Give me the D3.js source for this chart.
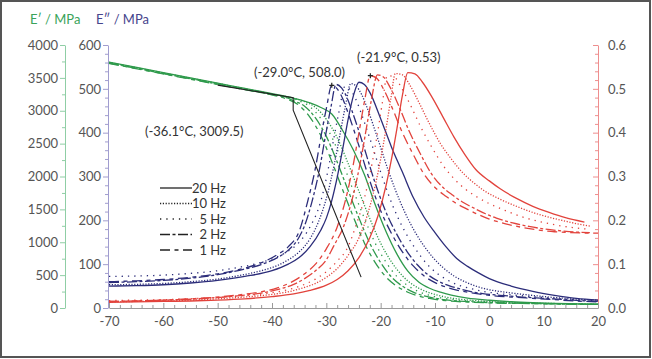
<!DOCTYPE html>
<html><head><meta charset="utf-8">
<script src="https://cdn.jsdelivr.net/npm/d3@7"></script>
<style>
body{margin:0;background:#fff;}
svg text{font-family:Lato,"Open Sans",sans-serif;}
</style></head><body>
<svg id="c" width="652" height="359"></svg>
<script>
// ---------- data ----------
const freqs = ["20 Hz","10 Hz","5 Hz","2 Hz","1 Hz"];
const xTicks = [-70,-60,-50,-40,-30,-20,-10,0,10,20];
const ePTicks = [0,500,1000,1500,2000,2500,3000,3500,4000];
const eDPTicks = [0,100,200,300,400,500,600];
const tanTicks = [0,0.1,0.2,0.3,0.4,0.5,0.6];

// E' (storage modulus, MPa)
const ep20 = [[-70,3740],[-60,3580],[-50,3420],[-45,3340],[-40,3260],[-36,3190],[-33,3120],[-31,3050],[-29,2950],[-27,2700],[-25,2400],[-23,2030],[-21,1570],[-19,1160],[-17,820],[-15,560],[-13,395],[-11,300],[-9,240],[-7,195],[-4,150],[0,118],[4,95],[8,80],[12,70],[16,63],[20,58]];
const ep10 = [[-70,3735],[-60,3575],[-50,3415],[-45,3335],[-40,3255],[-36,3190],[-34,3140],[-32,3050],[-30,2870],[-28,2590],[-26,2200],[-24,1775],[-22,1360],[-20,985],[-18,700],[-16,490],[-14,350],[-12,262],[-10,205],[-8,166],[-5,130],[-1,103],[3,88],[8,75],[13,67],[17,61],[20,58]];
const ep5 = [[-70,3730],[-60,3570],[-50,3410],[-45,3330],[-40,3250],[-37,3200],[-35,3150],[-33,3060],[-31,2880],[-29,2600],[-27,2210],[-25,1780],[-23,1365],[-21,985],[-19,695],[-17,478],[-15,340],[-13,250],[-11,192],[-9,155],[-6,122],[-2,97],[2,83],[7,72],[12,65],[17,59],[20,57]];
const ep2 = [[-70,3725],[-60,3565],[-50,3405],[-45,3325],[-40,3245],[-37,3190],[-36,3150],[-34,3070],[-32,2890],[-30,2610],[-28,2220],[-26,1790],[-24,1370],[-22,985],[-20,690],[-18,470],[-16,332],[-14,242],[-12,184],[-10,148],[-7,116],[-3,93],[1,80],[6,71],[11,64],[16,58],[20,55]];
const ep1 = [[-70,3720],[-60,3560],[-50,3400],[-45,3320],[-40,3240],[-37,3170],[-35,3080],[-33,2900],[-31,2620],[-29,2230],[-27,1800],[-25,1380],[-23,990],[-21,690],[-19,470],[-17,330],[-15,240],[-13,180],[-11,145],[-8,112],[-4,90],[0,78],[5,70],[10,64],[15,58],[20,55]];

// E'' (loss modulus, MPa)
const en20 = [[-70,50],[-65,51],[-60,53],[-55,57],[-50,63],[-45,72],[-40,85],[-37,100],[-35,115],[-33,140],[-31,178],[-30,205],[-29,245],[-28,298],[-27,362],[-26,430],[-25,485],[-24,515],[-23,510],[-22,492],[-20,432],[-18,367],[-16,310],[-14,252],[-12,207],[-10,172],[-8,140],[-6,113],[-4,95],[-2,80],[0,67],[4,50],[8,38],[12,29],[16,22],[20,18]];
const en10 = [[-70,53],[-65,54],[-60,56],[-55,60],[-50,66],[-46,74],[-42,85],[-39,97],[-37,110],[-35,128],[-33,158],[-31.5,195],[-30,250],[-28.5,330],[-27.5,395],[-26.5,460],[-25.5,512],[-24.5,506],[-23.5,487],[-22.5,457],[-20.5,385],[-18.5,310],[-16.5,245],[-14.5,192],[-12.5,150],[-10.5,117],[-8.5,92],[-6.5,73],[-4.5,60],[-2.5,50],[-0.5,43],[3,36],[7,30],[11,25],[15,21],[20,18]];
const en5 = [[-70,72],[-65,73],[-60,75],[-55,79],[-50,85],[-46,93],[-42,104],[-39,117],[-37,130],[-35,150],[-33,185],[-31.1,240],[-29.6,320],[-28.6,388],[-27.6,452],[-26.6,505],[-25.6,498],[-24.6,477],[-23.6,445],[-21.6,372],[-19.6,295],[-17.6,228],[-15.6,176],[-13.6,135],[-11.6,102],[-9.6,79],[-7.6,63],[-5.6,52],[-3.6,45],[-1.6,39],[0.4,35],[4,30],[8,26],[12,22],[16,19],[20,17]];
const en2 = [[-70,58],[-65,60],[-60,63],[-55,68],[-50,76],[-46,86],[-42,99],[-39,115],[-37,132],[-35,162],[-34,188],[-32.7,240],[-31.2,320],[-30.2,390],[-29.2,455],[-28.2,510],[-27.2,502],[-26.2,480],[-25.2,447],[-23.2,372],[-21.2,292],[-19.2,224],[-17.2,172],[-15.2,130],[-13.2,98],[-11.2,75],[-9.2,60],[-7.2,50],[-5.2,43],[-3.2,37],[-1.2,33],[2,29],[6,25],[10,22],[14,19],[18,16],[20,15]];
const en1 = [[-70,60],[-65,62],[-60,65],[-55,70],[-50,78],[-46,88],[-42,103],[-39,122],[-37,140],[-35,175],[-33.5,240],[-32,320],[-31,390],[-30,455],[-29,508],[-28,500],[-27,478],[-26,445],[-24,370],[-22,290],[-20,222],[-18,170],[-16,128],[-14,96],[-12,73],[-10,58],[-8,48],[-6,41],[-4,36],[-2,32],[0,29],[4,25],[8,22],[12,19],[16,16],[20,14]];

// tan delta
const tr20 = [[-70,0.013],[-65,0.014],[-60,0.015],[-55,0.016],[-50,0.018],[-45,0.021],[-40,0.026],[-36,0.032],[-33,0.04],[-30,0.052],[-28,0.065],[-26,0.085],[-24,0.115],[-22,0.16],[-20.5,0.21],[-19,0.28],[-18,0.34],[-17,0.41],[-16,0.485],[-15,0.537],[-13.7,0.534],[-12.3,0.515],[-10.5,0.48],[-8.5,0.435],[-6.5,0.39],[-4.5,0.35],[-2.5,0.316],[0,0.29],[2,0.272],[5,0.25],[8,0.232],[11,0.218],[14,0.206],[17.5,0.196]];
const tr10 = [[-70,0.014],[-65,0.015],[-60,0.016],[-55,0.018],[-50,0.021],[-45,0.025],[-40,0.031],[-37,0.037],[-34,0.047],[-32,0.056],[-30,0.07],[-28,0.09],[-26,0.12],[-24,0.16],[-22.5,0.21],[-21,0.28],[-20,0.34],[-19,0.41],[-18.1,0.48],[-17.3,0.535],[-16,0.532],[-14.7,0.51],[-13,0.47],[-11,0.42],[-9,0.375],[-7,0.34],[-5,0.31],[-3,0.287],[-1,0.268],[2,0.248],[5,0.232],[8,0.218],[11,0.207],[14,0.198],[17,0.19],[18.5,0.187]];
const tr5 = [[-70,0.017],[-65,0.018],[-60,0.019],[-55,0.021],[-50,0.024],[-45,0.028],[-40,0.035],[-37,0.042],[-34,0.054],[-32,0.066],[-30,0.083],[-28,0.107],[-26,0.14],[-24.5,0.19],[-23,0.25],[-21.5,0.335],[-20.5,0.405],[-19.6,0.475],[-18.8,0.53],[-17.5,0.527],[-16.2,0.503],[-14.6,0.465],[-12.5,0.41],[-10.5,0.365],[-8.5,0.325],[-6.5,0.295],[-4.5,0.272],[-2.5,0.255],[0,0.238],[3,0.222],[6,0.208],[9,0.198],[12,0.19],[15,0.184],[18,0.18]];
const tr2 = [[-70,0.015],[-65,0.016],[-60,0.018],[-55,0.020],[-50,0.024],[-46,0.028],[-42,0.034],[-39,0.042],[-36,0.054],[-34,0.067],[-32,0.085],[-30,0.11],[-28.7,0.14],[-26.7,0.19],[-25.2,0.25],[-23.7,0.335],[-22.7,0.405],[-21.7,0.475],[-20.6,0.532],[-19.5,0.527],[-18.2,0.502],[-16.7,0.462],[-14.7,0.402],[-12.7,0.352],[-10.7,0.307],[-8.7,0.277],[-6.7,0.257],[-4.7,0.24],[-2.7,0.227],[-0.7,0.215],[1.3,0.205],[4.3,0.194],[7.3,0.186],[10.3,0.18],[13.3,0.176],[16.3,0.173],[18.5,0.172]];
const tr1 = [[-70,0.015],[-65,0.016],[-60,0.018],[-55,0.021],[-50,0.025],[-46,0.03],[-42,0.037],[-39,0.046],[-36,0.062],[-34,0.078],[-32,0.1],[-30,0.135],[-28,0.185],[-26.5,0.245],[-25,0.33],[-24,0.4],[-23,0.47],[-21.9,0.53],[-20.8,0.525],[-19.5,0.5],[-18,0.46],[-16,0.4],[-14,0.35],[-12,0.305],[-10,0.275],[-8,0.255],[-6,0.238],[-4,0.225],[-2,0.213],[0,0.203],[3,0.192],[6,0.184],[9,0.178],[12,0.174],[15,0.172],[18,0.171],[20,0.171]];

// tangent construction line (E')
const tangentLine = [[-50,3390],[-36.1,3200],[-36.1,3009.5],[-23.6,470]];
const annotations = [
  {text:"(-36.1°C, 3009.5)", t:-36.1, v:3009.5},
  {text:"(-29.0°C, 508.0)", t:-29.0, v:508.0},
  {text:"(-21.9°C, 0.53)", t:-21.9, v:0.53}
];

// ---------- drawing ----------
const svg = d3.select("#c");
const L = 109, R = 598, T = 45, B = 308;
const x = d3.scaleLinear([-70,20],[L,R]);
const yEP = d3.scaleLinear([0,4000],[B,T]);
const yEN = d3.scaleLinear([0,600],[B,T]);
const yT = d3.scaleLinear([0,0.6],[B,T]);

const cGreen = "#2f9a4c", cNavy = "#2c2d7a", cRed = "#e2433c";
const dashes = {"20 Hz":null,"10 Hz":"1.2,1.6","5 Hz":"1.3,5","2 Hz":"10,2.5,3,2.5","1 Hz":"10,4.5,4,4.5"};

svg.append("rect").attr("x",1).attr("y",1).attr("width",649).attr("height",356)
  .attr("fill","none").attr("stroke","#555").attr("stroke-width",2);

function styleAxis(g, lineColor){
  g.selectAll("path.domain").attr("stroke",lineColor).attr("stroke-width",1);
  g.selectAll(".tick line").attr("stroke",lineColor);
  g.selectAll(".tick text").attr("fill","#555").style("font-size","13px").style("font-family","Lato, sans-serif");
}
function minor(g, scale, vals, orient, size, color){
  g.selectAll(null).data(vals).enter().append("line")
   .attr("stroke",color).attr("stroke-width",1)
   .each(function(d){
     const s=d3.select(this);
     if(orient==="left"){ s.attr("x1",0).attr("x2",-size).attr("y1",scale(d)+0.5).attr("y2",scale(d)+0.5); }
     else { s.attr("y1",0).attr("y2",-size).attr("x1",scale(d)+0.5).attr("x2",scale(d)+0.5); }
   });
}
const fmtInt = d => String(d);

const gEP = svg.append("g").attr("transform",`translate(65,0)`)
  .call(d3.axisLeft(yEP).tickValues(ePTicks).tickSize(5).tickSizeOuter(0).tickPadding(2).tickFormat(fmtInt));
styleAxis(gEP,"#8fcea5");
minor(gEP,yEP,d3.range(250,4000,500),"left",3,"#8fcea5");

const gEN = svg.append("g").attr("transform",`translate(${L-1},0)`)
  .call(d3.axisLeft(yEN).tickValues(eDPTicks).tickSize(5).tickSizeOuter(0).tickPadding(2).tickFormat(fmtInt));
styleAxis(gEN,"#a19dcf");
minor(gEN,yEN,d3.range(20,600,20).filter(v=>v%100!==0),"left",3,"#a19dcf");

const gT = svg.append("g").attr("transform",`translate(${R},0)`)
  .call(d3.axisRight(yT).tickValues(tanTicks).tickSizeInner(-5).tickSizeOuter(0).tickPadding(10).tickFormat(d3.format(".1f")));
styleAxis(gT,"#ee8e8e");
minor(gT,yT,d3.range(0.02,0.6,0.02).filter(v=>Math.abs(v*10-Math.round(v*10))>0.01),"left",3,"#ee8e8e");

const gX = svg.append("g").attr("transform",`translate(0,${B})`)
  .call(d3.axisBottom(x).tickValues(xTicks).tickSizeInner(-5).tickSizeOuter(0).tickPadding(9).tickFormat(fmtInt));
styleAxis(gX,"#9a9a9a");
minor(gX,x,d3.range(-68,20,2).filter(v=>v%10!==0),"up",3,"#9a9a9a");

svg.append("text").attr("x",30).attr("y",24).attr("fill","#3aa35a").style("font-size","13px").text("E′ / MPa");
svg.append("text").attr("x",96).attr("y",24).attr("fill","#46448c").style("font-size","13px").text("E″ / MPa");

const curve = d3.curveMonotoneX;
const lineFor = (ys)=> d3.line().x(d=>x(d[0])).y(d=>ys(d[1])).curve(curve);
const groups = [
  {ys:yEP, color:cGreen, sets:[ep20,ep10,ep5,ep2,ep1]},
  {ys:yEN, color:cNavy, sets:[en20,en10,en5,en2,en1]},
  {ys:yT, color:cRed, sets:[tr20,tr10,tr5,tr2,tr1]}
];
const plot = svg.append("g");
groups.forEach(g=>{
  g.sets.forEach((s,i)=>{
    plot.append("path").datum(s).attr("d",lineFor(g.ys)).attr("fill","none")
      .attr("stroke",g.color).attr("stroke-width",1.3)
      .attr("stroke-dasharray",dashes[freqs[i]]).attr("stroke-linecap","butt");
  });
});
plot.append("path").datum([[tr1[tr1.length-1][0],tr1[tr1.length-1][1]],[20,tr1[tr1.length-1][1]]])
  .attr("d",lineFor(yT)).attr("stroke",cRed).attr("stroke-width",1.3).attr("fill","none");

plot.append("path").datum(tangentLine).attr("d",d3.line().x(d=>x(d[0])).y(d=>yEP(d[1]))).attr("fill","none")
  .attr("stroke","#222").attr("stroke-width",1.1);

const markers = [[x(annotations[1].t),yEN(annotations[1].v)],[x(annotations[2].t),yT(annotations[2].v)]];
markers.forEach(p=>{
  plot.append("path").attr("d",`M${p[0]-2.5},${p[1]}H${p[0]+2.5}M${p[0]},${p[1]-2.5}V${p[1]+2.5}`)
    .attr("stroke","#222").attr("stroke-width",1.2);
});

svg.append("text").attr("x",145).attr("y",136).attr("fill","#333").style("font-size","13px").text(annotations[0].text);
svg.append("text").attr("x",254).attr("y",77).attr("fill","#333").style("font-size","13px").text(annotations[1].text);
svg.append("text").attr("x",357).attr("y",62).attr("fill","#333").style("font-size","13px").text(annotations[2].text);

const leg = svg.append("g");
freqs.forEach((f,i)=>{
  const yy = 188 + i*15.5;
  leg.append("line").attr("x1",160).attr("x2",192).attr("y1",yy).attr("y2",yy)
    .attr("stroke","#222").attr("stroke-width",1.3).attr("stroke-dasharray",dashes[f]);
  leg.append("text").attr("x",226).attr("y",yy+4.5).attr("text-anchor","end").attr("fill","#333")
    .style("font-size","13px").text(f);
});
</script></body></html>
